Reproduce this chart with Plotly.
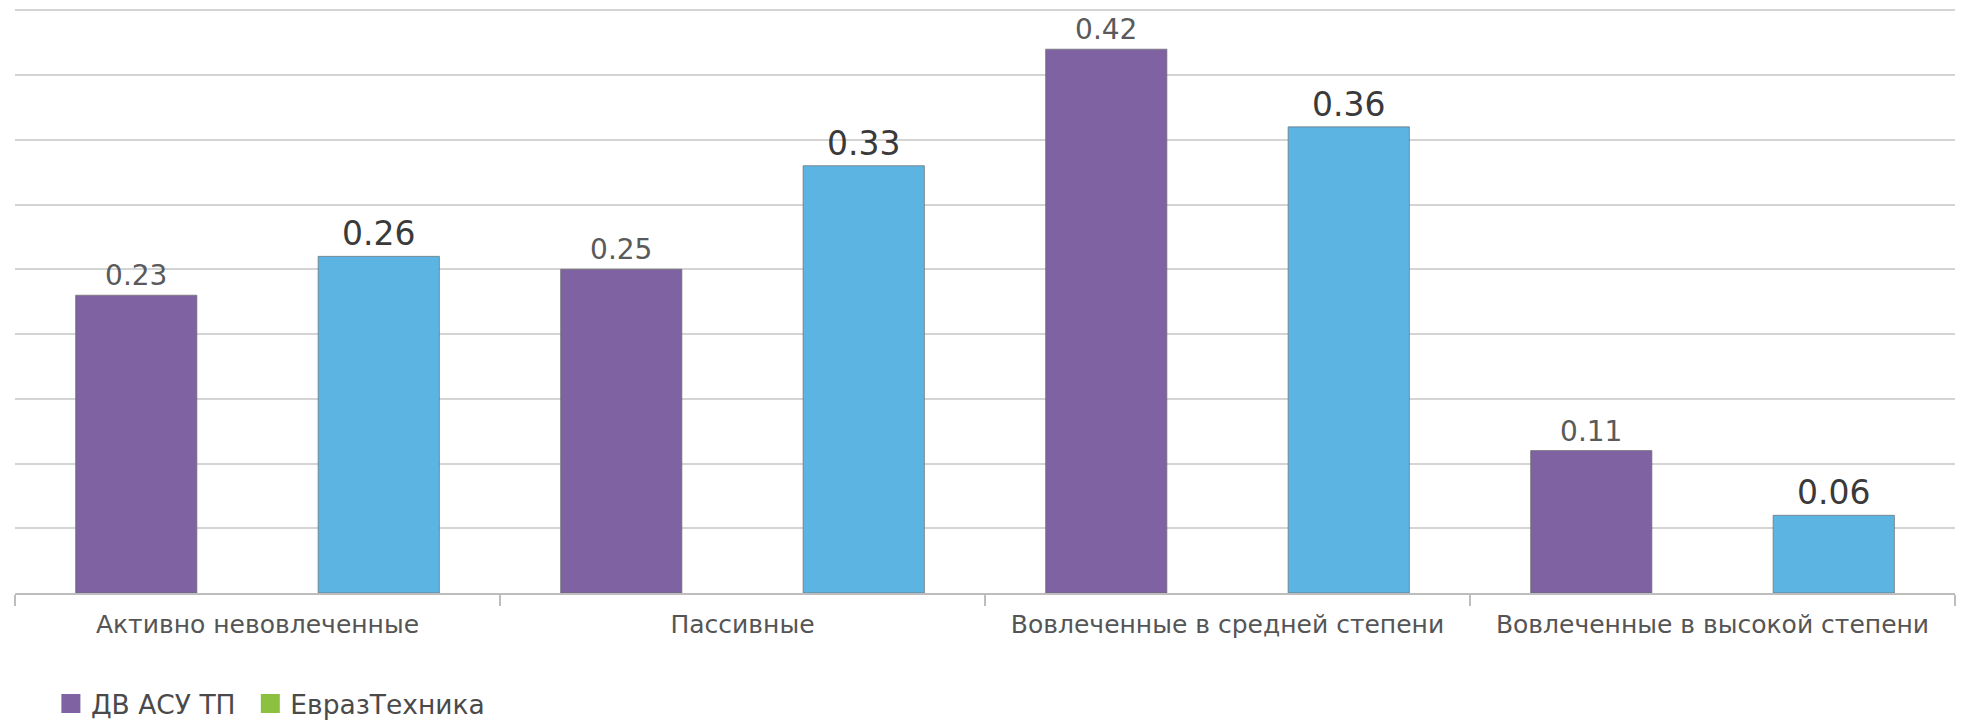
import plotly.graph_objects as go

categories = ["Активно невовлеченные", "Пассивные", "Вовлеченные в средней степени", "Вовлеченные в высокой степени"]
series_names = ["ДВ АСУ ТП", "ЕвразТехника"]
dv_values = [0.23, 0.25, 0.42, 0.11]
evraz_values = [0.26, 0.33, 0.36, 0.06]

purple = "#7E62A1"
blue = "#5BB4E2"
legend_green = "#8CC13F"
font_family = "DejaVu Sans, Verdana, sans-serif"

fig = go.Figure()
fig.add_trace(go.Bar(
    x=categories, y=dv_values, name=series_names[0], showlegend=False,
    marker=dict(color=purple, line=dict(color="rgba(110,110,110,0.7)", width=1)),
    text=[f"{v:.2f}" for v in dv_values], textposition="outside",
    textfont=dict(family=font_family, size=28, color="#5a5a5a"), cliponaxis=False,
))
fig.add_trace(go.Bar(
    x=categories, y=evraz_values, name=series_names[1], showlegend=False,
    marker=dict(color=blue, line=dict(color="rgba(110,110,110,0.7)", width=1)),
    text=[f"{v:.2f}" for v in evraz_values], textposition="outside",
    textfont=dict(family=font_family, size=33, color="#3a3a3a"), cliponaxis=False,
))
# legend entries (the original legend shows green for the second series)
fig.add_trace(go.Scatter(x=[None], y=[None], mode="markers", name=series_names[0],
                         marker=dict(symbol="square", size=16, color=purple,
                                     line=dict(color=purple, width=3)), legend="legend"))
fig.add_trace(go.Scatter(x=[None], y=[None], mode="markers", name=series_names[1],
                         marker=dict(symbol="square", size=16, color=legend_green,
                                     line=dict(color=legend_green, width=3)), legend="legend2"))

legend_style = dict(orientation="h", xanchor="left", yref="container", y=0.027, yanchor="middle",
                    font=dict(family=font_family, size=26.5, color="#4a4a4a"),
                    itemwidth=30, bgcolor="rgba(0,0,0,0)")

# the page body adds an 8px margin, so the figure is 8px smaller than the window
fig.update_layout(
    width=1967, height=715,
    margin=dict(l=7, r=20, t=0, b=130, autoexpand=False),
    paper_bgcolor="white", plot_bgcolor="white",
    barmode="group", bargap=0.0, bargroupgap=0.5,
    font=dict(family=font_family, color="#555555"),
    showlegend=True,
    legend=dict(x=0.0185, **legend_style),
    legend2=dict(x=0.1213, **legend_style),
)
fig.update_xaxes(
    showgrid=False, showline=True, linecolor="#bdbdbd", linewidth=2,
    ticks="outside", tickson="boundaries", ticklen=11, tickcolor="#bdbdbd", tickwidth=2,
    tickfont=dict(family=font_family, size=25, color="#555555"),
    ticklabelstandoff=8, automargin=False,
)
fig.update_yaxes(
    range=[0, 0.4518], dtick=0.05, showgrid=True, gridcolor="#d4d4d4", gridwidth=2,
    showticklabels=False, zeroline=False, showline=False, automargin=False,
)

fig.write_html("out.html")
